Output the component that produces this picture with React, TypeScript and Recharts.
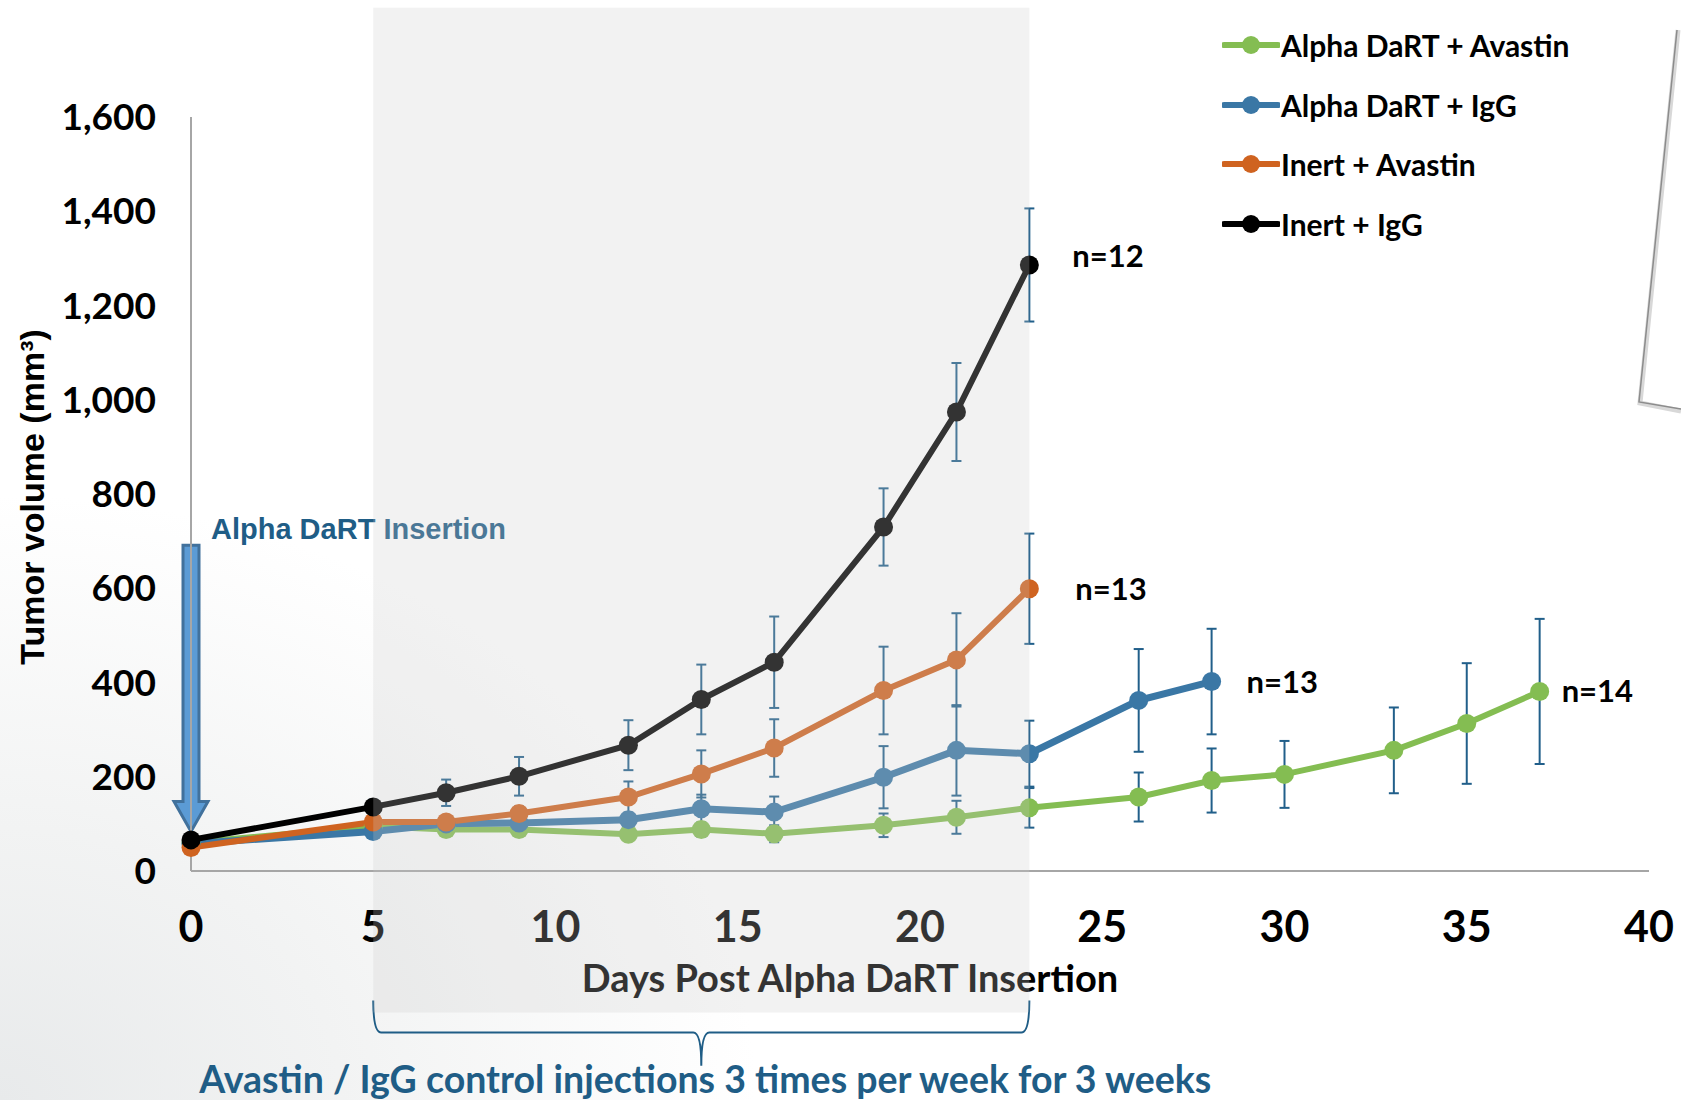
import React from 'react';
import {
  LineChart,
  Line,
  XAxis,
  YAxis,
  ErrorBar,
  Legend,
  ReferenceArea,
  LabelList,
  Label,
} from 'recharts';

const LATO = 'Lato, "Noto Sans", sans-serif';
const ARIAL = '"Liberation Sans", Arial, sans-serif';
const NOTE_BLUE = '#1f5d86';
const ERR_BLUE = '#215f8a';

// axis ticks
const X_TICKS = [0, 5, 10, 15, 20, 25, 30, 35, 40];
const Y_TICKS = [0, 200, 400, 600, 800, 1000, 1200, 1400, 1600];

// series (legend order)
const SERIES_NAMES = ['Alpha DaRT + Avastin', 'Alpha DaRT + IgG', 'Inert + Avastin', 'Inert + IgG'];
const SERIES_COLORS = ['#84bd52', '#3a77a5', '#cf6320', '#000000'];
const N_LABELS = ['n=14', 'n=13', 'n=13', 'n=12'];
const LABEL_GAP = [22, 35, 46, 43];

// days measured
const DAYS_GREEN = [0, 5, 7, 9, 12, 14, 16, 19, 21, 23, 26, 28, 30, 33, 35, 37];
const DAYS_BLUE = [0, 5, 7, 9, 12, 14, 16, 19, 21, 23, 26, 28];
const DAYS_INERT = [0, 5, 7, 9, 12, 14, 16, 19, 21, 23];

// mean tumor volume (mm3)
const VOL_GREEN = [60, 95, 88, 88, 78, 88, 79, 97, 114, 134, 157, 192, 205, 256, 313, 381];
const VOL_BLUE = [58, 84, 100, 102, 109, 132, 125, 199, 256, 249, 362, 402];
const VOL_ORANGE = [50, 104, 104, 122, 157, 206, 261, 383, 448, 599];
const VOL_BLACK = [66, 136, 166, 201, 267, 364, 443, 730, 974, 1286];

// error (+/-)
const ERR_GREEN = [0, 10, 10, 12, 12, 15, 18, 25, 35, 42, 52, 68, 71, 91, 128, 154];
const ERR_BLUE_S = [0, 12, 12, 15, 12, 30, 33, 66, 96, 70, 109, 112];
const ERR_ORANGE = [0, 12, 12, 15, 33, 50, 61, 93, 99, 117];
const ERR_BLACK = [0, 15, 28, 41, 53, 74, 97, 82, 104, 120];

// treatment window (days) and insertion day
const TREATMENT_WINDOW = [5, 23];
const INSERTION_DAY = 0;

function build(days: number[], vol: number[], err: number[], tag: string) {
  return days.map((d, i) => ({
    day: d,
    vol: vol[i],
    err: err[i],
    tag: i === days.length - 1 ? tag : undefined,
  }));
}

const SERIES_DATA = [
  build(DAYS_GREEN, VOL_GREEN, ERR_GREEN, N_LABELS[0]),
  build(DAYS_BLUE, VOL_BLUE, ERR_BLUE_S, N_LABELS[1]),
  build(DAYS_INERT, VOL_ORANGE, ERR_ORANGE, N_LABELS[2]),
  build(DAYS_INERT, VOL_BLACK, ERR_BLACK, N_LABELS[3]),
];

function InsertionArrow(props: any) {
  const { x, y, width, height } = props;
  const cx = x + width / 2;
  const yb = y + height;
  const pts = [
    [cx - 8, y],
    [cx + 8, y],
    [cx + 8, yb - 30],
    [cx + 17, yb - 30],
    [cx, yb],
    [cx - 17, yb - 30],
    [cx - 8, yb - 30],
  ]
    .map((p) => p.join(','))
    .join(' ');
  return (
    <g>
      <polygon points={pts} fill="#5b9bd5" stroke="#41719c" strokeWidth={3} />
      <text x={cx + 20} y={y - 6} fill={NOTE_BLUE} fontFamily={ARIAL} fontWeight={700} fontSize={29}>
        Alpha DaRT Insertion
      </text>
    </g>
  );
}

function Brace(props: any) {
  const { x, y, width, height } = props;
  const cx = x + width / 2;
  const yh = y + 32;
  const yb = y + height;
  const d = `M${x},${y} Q${x},${yh} ${x + 8},${yh} L${cx - 8},${yh} Q${cx},${yh} ${cx},${yb} Q${cx},${yh} ${cx + 8},${yh} L${x + width - 8},${yh} Q${x + width},${yh} ${x + width},${y}`;
  return (
    <g>
      <path d={d} fill="none" stroke={NOTE_BLUE} strokeWidth={2} />
      <text x={cx + 4} y={yb + 27} textAnchor="middle" fill={NOTE_BLUE} fontFamily={LATO} fontWeight={700} fontSize={37.5}>
        Avastin / IgG control injections 3 times per week for 3 weeks
      </text>
    </g>
  );
}

function XTitle(props: any) {
  const { viewBox } = props;
  return (
    <text
      x={viewBox.x + viewBox.width / 2 - 70}
      y={viewBox.y + 121}
      textAnchor="middle"
      fill="#000"
      fontFamily={LATO}
      fontWeight={700}
      fontSize={38}
    >
      Days Post Alpha DaRT Insertion
    </text>
  );
}

function YTitle(props: any) {
  const { viewBox } = props;
  const cx = viewBox.x + 22;
  const cy = viewBox.y + viewBox.height / 2 + 3;
  return (
    <text
      x={cx}
      y={cy}
      transform={`rotate(-90, ${cx}, ${cy})`}
      textAnchor="middle"
      dominantBaseline="central"
      fill="#000"
      fontFamily={ARIAL}
      fontWeight={700}
      fontSize={34}
    >
      Tumor volume (mm³)
    </text>
  );
}

function LegendBox(props: any) {
  const { payload } = props;
  return (
    <div>
      {(payload || []).map((p: any) => (
        <div key={p.value} style={{ display: 'flex', alignItems: 'center', height: 59.7 }}>
          <svg width={58} height={20}>
            <line x1={2} y1={10} x2={56} y2={10} stroke={p.color} strokeWidth={6} strokeLinecap="round" />
            <circle cx={29} cy={10} r={9} fill={p.color} />
          </svg>
          <span style={{ fontFamily: LATO, fontWeight: 700, fontSize: 30, color: '#000', marginLeft: 1 }}>
            {p.value}
          </span>
        </div>
      ))}
    </div>
  );
}

export default function App() {
  return (
    <div
      style={{
        position: 'absolute',
        left: 0,
        top: 0,
        width: 1681,
        height: 1100,
        background:
          'radial-gradient(ellipse 45% 55% at 0% 100%, #e8eaeb 0%, #f2f3f3 45%, #ffffff 100%)',
      }}
    >
      <LineChart width={1681} height={1100} margin={{ top: 117, right: 32, bottom: 109, left: 10 }}>
        <XAxis
          type="number"
          dataKey="day"
          domain={[0, 40]}
          ticks={X_TICKS}
          allowDuplicatedCategory={false}
          axisLine={{ stroke: '#a6a6a6', strokeWidth: 2 }}
          tickLine={false}
          tickSize={0}
          tickMargin={40}
          height={120}
          tick={{ fill: '#000', fontSize: 43, fontFamily: LATO, fontWeight: 700 }}
          label={<Label content={XTitle} />}
        />
        <YAxis
          type="number"
          domain={[0, 1600]}
          ticks={Y_TICKS}
          width={181}
          axisLine={{ stroke: '#a6a6a6', strokeWidth: 2 }}
          tickLine={false}
          tickSize={0}
          tickMargin={35}
          tickFormatter={(v: number) => v.toLocaleString('en-US')}
          tick={{ fill: '#000', fontSize: 37, fontFamily: LATO, fontWeight: 700 }}
          label={<Label content={YTitle} />}
        />
        <Legend
          layout="vertical"
          verticalAlign="middle"
          align="center"
          content={LegendBox}
          wrapperStyle={{ top: 15, left: 1222, right: 'auto', bottom: 'auto', width: 'auto' }}
        />
        <ReferenceArea
          x1={INSERTION_DAY - 0.3}
          x2={INSERTION_DAY + 0.3}
          y1={84}
          y2={691}
          ifOverflow="visible"
          shape={InsertionArrow}
        />
        <ReferenceArea
          x1={TREATMENT_WINDOW[0]}
          x2={TREATMENT_WINDOW[1]}
          y1={-275}
          y2={-413}
          ifOverflow="visible"
          shape={Brace}
        />
        {SERIES_DATA.map((data, i) => (
          <Line
            key={SERIES_NAMES[i]}
            name={SERIES_NAMES[i]}
            data={data}
            dataKey="vol"
            type="linear"
            stroke={SERIES_COLORS[i]}
            strokeWidth={i === 1 ? 7 : 6}
            dot={{ r: 9.5, fill: SERIES_COLORS[i], stroke: SERIES_COLORS[i], strokeWidth: 0 }}
            activeDot={false}
            isAnimationActive={false}
          >
            <ErrorBar dataKey="err" direction="y" width={5} stroke={ERR_BLUE} strokeWidth={2} />
            <LabelList
              dataKey="tag"
              position="right"
              offset={LABEL_GAP[i]}
              fill="#000"
              fontFamily={LATO}
              fontWeight={700}
              fontSize={31}
              dy={i === 3 ? -9 : 0}
            />
          </Line>
        ))}
        <ReferenceArea
          x1={TREATMENT_WINDOW[0]}
          x2={TREATMENT_WINDOW[1]}
          y1={-300}
          y2={1832}
          ifOverflow="visible"
          fill="#cccccc"
          fillOpacity={0.25}
          stroke="none"
          zIndex={3000}
        />
      </LineChart>
      <svg
        width={60}
        height={430}
        style={{ position: 'absolute', left: 1621, top: 0, pointerEvents: 'none' }}
      >
        <path d="M57,30 L19,403 L60,411" fill="none" stroke="#d8d8d8" strokeWidth={5} />
        <path d="M56,30 L18,402 L60,409" fill="none" stroke="#8c8c8c" strokeWidth={1.5} />
      </svg>
    </div>
  );
}
